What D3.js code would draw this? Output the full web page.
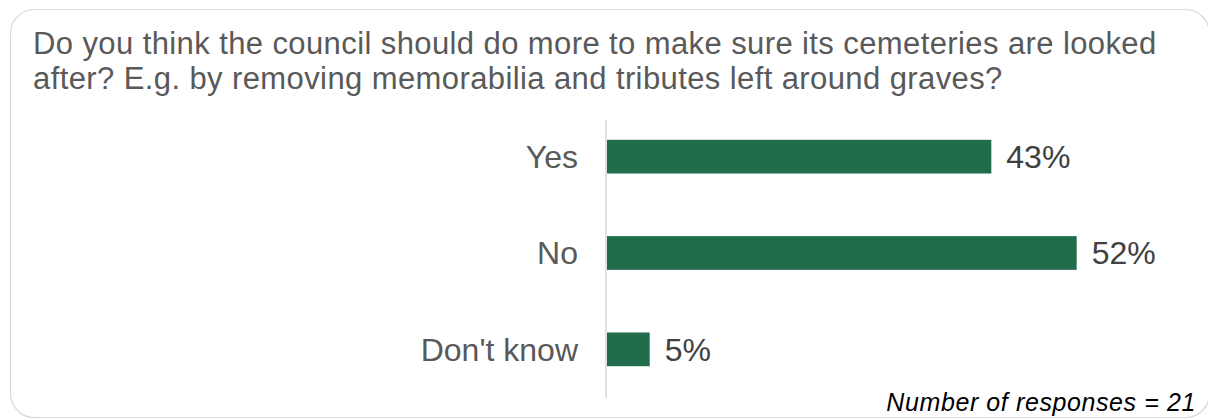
<!DOCTYPE html>
<html><head><meta charset="utf-8">
<script src="https://cdn.jsdelivr.net/npm/d3@7"></script>
<style>body{margin:0;background:#fff}svg{display:block;font-family:"Liberation Sans",Arial,sans-serif}</style>
</head><body><svg id="c" width="1208" height="418"></svg>
<script>
const categories = ["Yes", "No", "Don't know"];
const values = [42.86, 52.38, 4.76];
const valueLabels = ["43%", "52%", "5%"];
const titleLines = ["Do you think the council should do more to make sure its cemeteries are looked",
                    "after? E.g. by removing memorabilia and tributes left around graves?"];
const footnote = "Number of responses = 21";

const svg = d3.select("#c");
svg.append("rect").attr("x",10.5).attr("y",9.5).attr("width",1199).attr("height",408)
  .attr("rx",24).attr("fill","#fff").attr("stroke","#d9d9d9").attr("stroke-width",1.2);

const t = svg.append("text").attr("fill","#595959").attr("font-size",31).attr("letter-spacing",0.4);
titleLines.forEach((l,i)=>t.append("tspan").attr("x",33).attr("y",54+i*35).text(l));

const x = d3.scaleLinear().domain([0,60]).range([607,607+538]);
const y = d3.scaleBand().domain(categories).range([108,398]).paddingInner(0.65).paddingOuter(0.33);

svg.append("g").selectAll("rect").data(categories).join("rect")
  .attr("x",x(0)).attr("y",d=>y(d)).attr("height",y.bandwidth())
  .attr("width",(d,i)=>x(values[i])-x(0)).attr("fill","#216c4b");

svg.append("line").attr("x1",606).attr("x2",606).attr("y1",120).attr("y2",398)
  .attr("stroke","#d9d9d9").attr("stroke-width",1.5);

svg.append("g").selectAll("text").data(categories).join("text")
  .attr("x",578).attr("y",d=>y(d)+y.bandwidth()/2).attr("dy","0.35em")
  .attr("text-anchor","end").attr("font-size",32).attr("fill","#595959").text(d=>d);

svg.append("g").selectAll("text").data(categories).join("text")
  .attr("x",(d,i)=>x(values[i])+15).attr("y",d=>y(d)+y.bandwidth()/2).attr("dy","0.35em")
  .attr("font-size",32).attr("fill","#404040").text((d,i)=>valueLabels[i]);

svg.append("text").attr("x",1196).attr("y",411).attr("text-anchor","end")
  .attr("font-size",25).attr("letter-spacing",0.6).attr("font-style","italic").attr("fill","#000").text(footnote);
</script></body></html>
